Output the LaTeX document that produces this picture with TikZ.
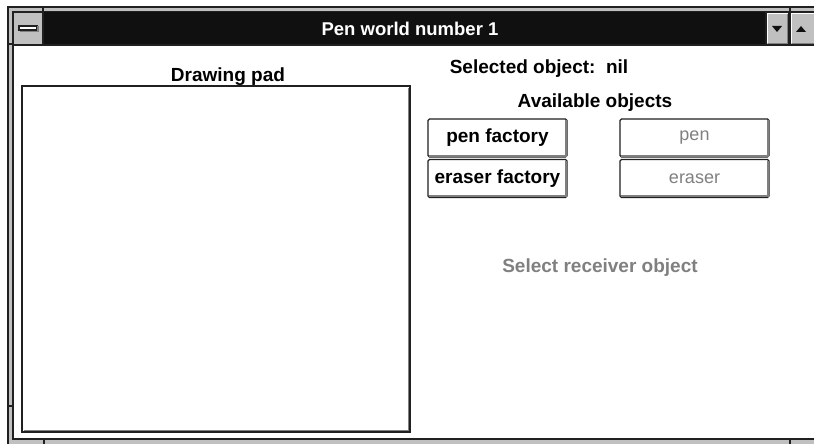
\documentclass[tikz,border=0pt]{standalone}
\usepackage{fontspec}
\setmainfont{Liberation Sans}
\definecolor{wgray}{HTML}{C0C0C0}
\definecolor{dgray}{HTML}{808080}
\definecolor{tblack}{HTML}{101010}
\definecolor{lblack}{HTML}{202020}
\tikzset{
  lbl/.style={font=\fontsize{19}{22}\selectfont\bfseries, text=black, inner sep=0pt},
  dislbl/.style={font=\fontsize{18}{22}\selectfont, text=dgray, inner sep=0pt},
  btn/.style={draw=lblack, line width=1.2pt, fill=white, rounded corners=1.5pt, minimum width=139pt, minimum height=38pt, inner sep=0pt},
  frameline/.style={draw=lblack, line width=1.2pt},
  shadowline/.style={draw=dgray, line width=2pt},
}
\begin{document}
\begin{tikzpicture}[x=1pt, y=-1pt]
\useasboundingbox (0,0) rectangle (814,444);
\begin{scope}
\clip (0,0) rectangle (814,444);
% outer frame
\path[fill=wgray, frameline] (8,7) rectangle (840,460);
\path[fill=white, frameline] (13,12) rectangle (835,439);
% corner ticks
\draw[lblack, line width=1.2pt] (43,7) -- (43,12);
\draw[lblack, line width=1.2pt] (790,7) -- (790,12);
\draw[lblack, line width=1.2pt] (8,44) -- (13,44);
\draw[lblack, line width=1.2pt] (8,406) -- (13,406);
\draw[lblack, line width=1.2pt] (44,439) -- (44,444);
\draw[lblack, line width=1.2pt] (790,439) -- (790,444);
% title bar
\path[fill=tblack] (43,12) rectangle (766,45);
\path[fill=wgray, frameline] (13,12) rectangle (43,45);
\node[draw=lblack, fill=white, line width=1.5pt, minimum width=18pt, minimum height=4pt, inner sep=0pt] (sysicon) at (28,28) {};
\draw[dgray, line width=1.2pt] (20,31.5) -- (38,31.5) -- (38,26);
\path[fill=wgray, frameline] (766,12) rectangle (789,45);
\path[fill=wgray, frameline] (790,12) rectangle (835,45);
\draw[white, line width=1.2pt] (767.5,43.5) -- (767.5,13.5) -- (787.5,13.5);
\draw[dgray, line width=1.5pt] (768,43.5) -- (787.5,43.5) -- (787.5,14);
\draw[white, line width=1.2pt] (791.5,43.5) -- (791.5,13.5) -- (834,13.5);
\draw[dgray, line width=1.5pt] (792,43.5) -- (834,43.5);
\fill[tblack] (772,26) -- (782,26) -- (777,32) -- cycle;
\fill[tblack] (796,32) -- (806,32) -- (801,26) -- cycle;
\draw[lblack, line width=1.2pt] (13,45) -- (835,45);
\node[font=\fontsize{18.5}{22}\selectfont\bfseries, text=white, inner sep=0pt] (title) at (410,29) {Pen world number 1};
\end{scope}
% drawing pad
\node[lbl] (padlabel) at (228,77) {Drawing pad};
\path[draw=lblack, line width=1.5pt, fill=white] (22,86) rectangle (410,432);
\draw[dgray, line width=1pt] (23.5,430) -- (408.5,430) -- (408.5,87.5);
% right side
\node[lbl] (selected) at (539,69) {Selected object:\ \ nil};
\node[lbl] (available) at (595,103) {Available objects};
\node[btn] (penf) at (497.5,138) {};
\node[btn] (eraserf) at (497.5,178.5) {};
\node[btn, minimum width=149pt] (pen) at (694.5,138) {};
\node[btn, minimum width=149pt] (eraser) at (694.5,178.5) {};
\foreach \b in {penf,eraserf,pen,eraser}{
  \draw[dgray, line width=2pt] ([xshift=2pt,yshift=2pt]\b.south west) -- ([xshift=-2pt,yshift=2pt]\b.south east) -- ([xshift=-2pt,yshift=-2pt]\b.north east);
}
\node[lbl] at (penf) {pen factory};
\node[lbl] at (eraserf) {eraser factory};
\node[dislbl] at (pen) {pen};
\node[dislbl] at (eraser) {eraser};
\node[font=\fontsize{19}{22}\selectfont\bfseries, text=dgray, inner sep=0pt] (receiver) at (600,268) {Select receiver object};
\end{tikzpicture}
\end{document}
